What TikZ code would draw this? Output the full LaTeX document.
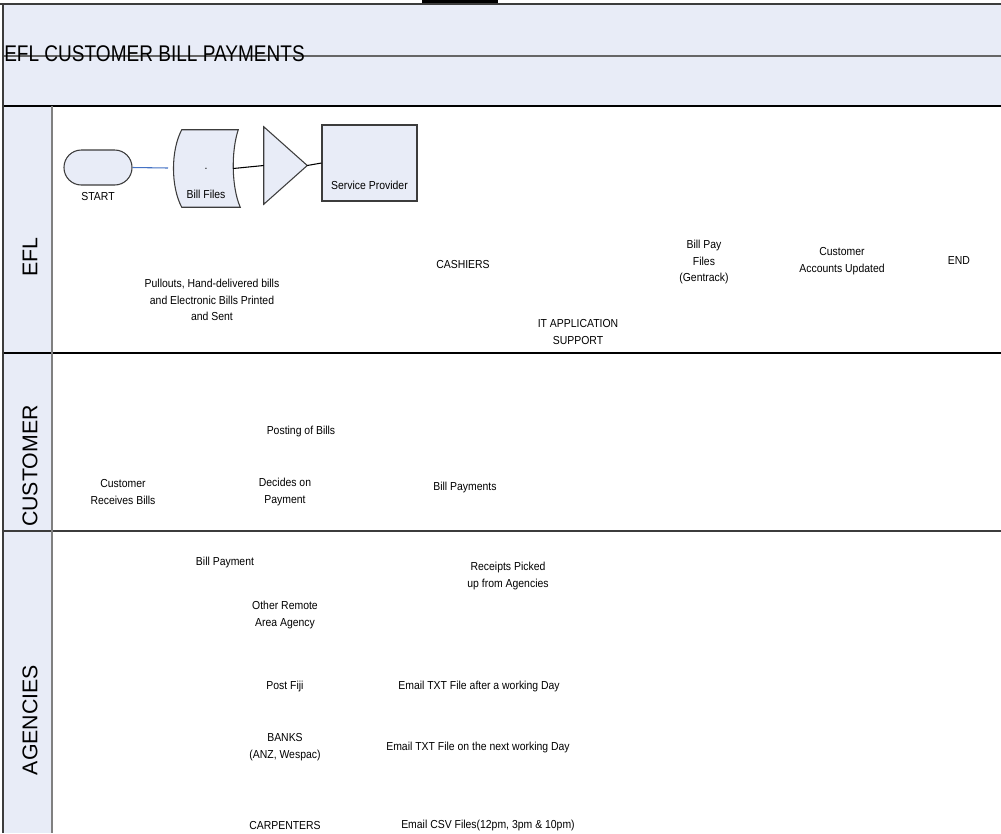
\documentclass[tikz,border=0pt]{standalone}
\usepackage{fontspec}
\setmainfont{Liberation Sans}
\newfontfamily\narrowsans[FakeStretch=0.9]{Liberation Sans}
\newfontfamily\titlesans[FakeStretch=0.84]{Liberation Sans}
\usetikzlibrary{positioning, fit, calc}
\definecolor{lanefill}{RGB}{232,236,247}
\definecolor{edgegray}{RGB}{60,60,60}
\definecolor{connblue}{RGB}{68,114,196}

\begin{document}
\begin{tikzpicture}[x=0.75pt,y=-0.75pt,
    every node/.style={font=\narrowsans\fontsize{8.7}{12.6}\selectfont, align=center, inner sep=0pt},
    lane/.style={font=\fontsize{16}{16}\selectfont, rotate=90},
    box/.style={draw=edgegray, fill=lanefill, line width=0.8pt},
    sepline/.style={draw=edgegray, line width=1.3pt}]

  \useasboundingbox (0,0) rectangle (1001,833);

  % pool and lane frame
  \fill[lanefill] (3,4) rectangle (1001,106);
  \fill[lanefill] (3,106) rectangle (52,833);
  \fill[black] (422,0) rectangle (498,3.5);
  \draw[sepline, line width=1.8pt] (0,4) -- (1001,4);
  \draw[sepline, draw=gray!80!black] (3,56) -- (1001,56);
  \draw[sepline, draw=black] (3,106) -- (1001,106);
  \draw[sepline, draw=black] (3,353) -- (1001,353);
  \draw[sepline, line width=1.8pt] (3,531) -- (1001,531);
  \draw[sepline, draw=gray] (52,106) -- (52,833);
  \draw[sepline, line width=1.8pt] (3,4) -- (3,833);

  \node (title) [anchor=base west, font=\titlesans\fontsize{17}{17}\selectfont] at (4,61) {EFL CUSTOMER BILL PAYMENTS};
  \node (efl) [lane] at (30,257) {EFL};
  \node (customer) [lane] at (30,466) {CUSTOMER};
  \node (agencies) [lane] at (30,720) {AGENCIES};

  % EFL lane
  \node (start) [box, rounded corners=13pt, fit={(64,150) (132,185)}] {};
  \node (starttxt) [below=5pt of start.south] {START};
  \coordinate (startend) at (168,168);
  \draw[connblue, line width=0.8pt] (start.east) -- (startend);

  \node (billfiles) [fit={(172,130) (240,207)}] {};
  \draw[box] ($(billfiles.north west)+(10,0)$) -- ($(billfiles.north east)+(-2,0)$)
    .. controls ($(billfiles.east)+(-9,-18)$) and ($(billfiles.east)+(-9,18)$) .. (billfiles.south east)
    -- ($(billfiles.south west)+(10,0)$)
    .. controls ($(billfiles.west)+(-1,18)$) and ($(billfiles.west)+(-1,-18)$) .. cycle;
  \node (billdot) at (billfiles.center) {.};
  \node (billtxt) [above=6pt of billfiles.south] {Bill Files};

  \node (merge) [fit={(264,127) (307,204)}] {};
  \draw[box] (merge.north west) -- (merge.east) -- (merge.south west) -- cycle;

  \node (provider) [box, fit={(322,125) (417,201)}] {};
  \node (providertxt) [above=9pt of provider.south] {Service Provider};

  \draw[line width=0.8pt] ($(billfiles.east)+(-7,0)$) -- (merge.west);
  \draw[line width=0.8pt] (merge.east) -- (provider.west);

  \node (pullouts) at (212,300) {Pullouts, Hand-delivered bills\\and Electronic Bills Printed\\and Sent};
  \node (cashiers) at (463,264) {CASHIERS};
  \node (billpay) at (704,262) {Bill Pay\\Files\\(Gentrack)};
  \node (accounts) at (842,261) {Customer\\Accounts Updated};
  \node (finish) at (959,261) {END};
  \node (itsupport) at (578,332) {IT APPLICATION\\SUPPORT};

  % CUSTOMER lane
  \node (posting) at (301,431) {Posting of Bills};
  \node (receives) at (123,492) {Customer\\Receives Bills};
  \node (decides) at (285,492) {Decides on\\Payment};
  \node (payments) at (465,487) {Bill Payments};

  % AGENCIES lane
  \node (billpayment) at (225,562) {Bill Payment};
  \node (receipts) at (508,576) {Receipts Picked\\up from Agencies};
  \node (remote) at (285,615) {Other Remote\\Area Agency};
  \node (postfiji) at (285,686) {Post Fiji};
  \node (emailpost) at (479,686) {Email TXT File after a working Day};
  \node (banks) at (285,747) {BANKS\\(ANZ, Wespac)};
  \node (emailbank) at (478,747) {Email TXT File on the next working Day};
  \node (carpenters) at (285,825) {CARPENTERS};
  \node (emailcsv) at (488,825) {Email CSV Files(12pm, 3pm \& 10pm)};
\end{tikzpicture}
\end{document}
